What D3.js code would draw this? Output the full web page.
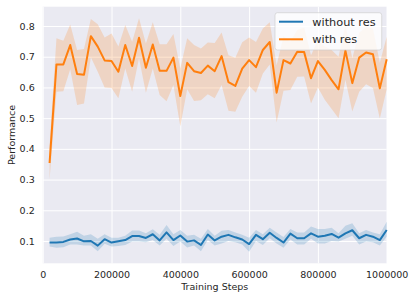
<!DOCTYPE html>
<html>
<head>
<meta charset="utf-8">
<script src="https://cdn.jsdelivr.net/npm/d3@7"></script>
<style>
  body { margin: 0; background: #fff; }
  text { font-family: "DejaVu Sans", sans-serif; fill: #262626; }
</style>
</head>
<body>
<div id="chart"></div>
<script>
// Data.
const steps = [20000, 40000, 60000, 80000, 100000, 120000, 140000, 160000, 180000, 200000,
  220000, 240000, 260000, 280000, 300000, 320000, 340000, 360000, 380000, 400000,
  420000, 440000, 460000, 480000, 500000, 520000, 540000, 560000, 580000, 600000,
  620000, 640000, 660000, 680000, 700000, 720000, 740000, 760000, 780000, 800000,
  820000, 840000, 860000, 880000, 900000, 920000, 940000, 960000, 980000, 1000000];

const withRes = [0.354, 0.675, 0.675, 0.738, 0.644, 0.641, 0.767, 0.733, 0.688, 0.686,
  0.651, 0.738, 0.670, 0.762, 0.664, 0.740, 0.654, 0.654, 0.697, 0.572,
  0.680, 0.653, 0.647, 0.671, 0.653, 0.702, 0.617, 0.605, 0.661, 0.689,
  0.666, 0.722, 0.748, 0.583, 0.689, 0.678, 0.716, 0.715, 0.630, 0.686,
  0.657, 0.624, 0.594, 0.720, 0.614, 0.697, 0.714, 0.708, 0.597, 0.692];
const withResHi = [0.410, 0.760, 0.752, 0.805, 0.722, 0.725, 0.823, 0.806, 0.763, 0.776,
  0.733, 0.803, 0.749, 0.825, 0.743, 0.812, 0.741, 0.741, 0.774, 0.662,
  0.760, 0.738, 0.727, 0.746, 0.745, 0.779, 0.705, 0.697, 0.747, 0.763,
  0.748, 0.792, 0.812, 0.672, 0.767, 0.749, 0.787, 0.794, 0.705, 0.754,
  0.733, 0.722, 0.700, 0.803, 0.695, 0.778, 0.797, 0.792, 0.680, 0.765];
const withResLo = [0.300, 0.586, 0.588, 0.659, 0.543, 0.548, 0.698, 0.651, 0.600, 0.598,
  0.565, 0.662, 0.586, 0.695, 0.583, 0.662, 0.575, 0.555, 0.608, 0.474,
  0.594, 0.556, 0.558, 0.578, 0.565, 0.608, 0.524, 0.521, 0.570, 0.605,
  0.583, 0.645, 0.675, 0.486, 0.589, 0.592, 0.635, 0.636, 0.548, 0.600,
  0.560, 0.530, 0.500, 0.625, 0.522, 0.586, 0.610, 0.598, 0.499, 0.594];

const withoutRes = [0.095, 0.095, 0.097, 0.105, 0.108, 0.099, 0.100, 0.085, 0.106, 0.095,
  0.099, 0.103, 0.116, 0.116, 0.110, 0.122, 0.102, 0.128, 0.103, 0.118,
  0.098, 0.102, 0.087, 0.121, 0.102, 0.114, 0.120, 0.112, 0.105, 0.090,
  0.120, 0.106, 0.127, 0.110, 0.095, 0.124, 0.109, 0.109, 0.125, 0.114,
  0.117, 0.123, 0.111, 0.125, 0.135, 0.109, 0.120, 0.114, 0.103, 0.136];
const withoutResHi = [0.111, 0.114, 0.115, 0.122, 0.130, 0.117, 0.122, 0.107, 0.122, 0.111,
  0.111, 0.117, 0.134, 0.134, 0.125, 0.138, 0.120, 0.152, 0.122, 0.136,
  0.117, 0.120, 0.107, 0.139, 0.117, 0.133, 0.136, 0.128, 0.120, 0.111,
  0.136, 0.122, 0.143, 0.128, 0.113, 0.139, 0.128, 0.128, 0.147, 0.139,
  0.139, 0.143, 0.125, 0.150, 0.158, 0.125, 0.136, 0.128, 0.122, 0.163];
const withoutResLo = [0.082, 0.078, 0.080, 0.089, 0.089, 0.085, 0.085, 0.067, 0.091, 0.082,
  0.084, 0.087, 0.098, 0.098, 0.096, 0.103, 0.085, 0.107, 0.084, 0.098,
  0.079, 0.085, 0.067, 0.103, 0.085, 0.092, 0.100, 0.096, 0.089, 0.065,
  0.100, 0.087, 0.109, 0.092, 0.078, 0.105, 0.089, 0.089, 0.107, 0.092,
  0.092, 0.100, 0.098, 0.107, 0.117, 0.089, 0.098, 0.096, 0.085, 0.114];

const xTicks = [0, 200000, 400000, 600000, 800000, 1000000];
const yTicks = [0.1, 0.2, 0.3, 0.4, 0.5, 0.6, 0.7, 0.8];

const series = [
  { name: "without res", color: "#1f77b4", mean: withoutRes, hi: withoutResHi, lo: withoutResLo },
  { name: "with res", color: "#ff7f0e", mean: withRes, hi: withResHi, lo: withResLo },
];

// Margin convention.
const W = 416, H = 300;
const margin = { top: 6.7, right: 29.3, bottom: 36.7, left: 42.7 };
const width = W - margin.left - margin.right;
const height = H - margin.top - margin.bottom;

const svg = d3.select("#chart").append("svg")
  .attr("width", W).attr("height", H);
const g = svg.append("g")
  .attr("transform", `translate(${margin.left},${margin.top})`);

// Scales.
const x = d3.scaleLinear().domain([0, 1000000]).range([0, width]);
const y = d3.scaleLinear().domain([0.0274, 0.8629]).range([height, 0]);

g.append("rect").attr("width", width).attr("height", height).attr("fill", "#eaeaf2");

// Grid + axes.
const xAxis = g.append("g")
  .attr("transform", `translate(0,${height})`)
  .call(d3.axisBottom(x).tickValues(xTicks).tickFormat(d3.format("d")).tickSize(-height).tickPadding(8));
const yAxis = g.append("g")
  .call(d3.axisLeft(y).tickValues(yTicks).tickFormat(d3.format(".1f")).tickSize(-width).tickPadding(8));

[xAxis, yAxis].forEach((a) => {
  a.select(".domain").remove();
  a.selectAll(".tick line").attr("stroke", "#fff").attr("stroke-width", 1);
  a.selectAll(".tick text").attr("font-size", 9.5).attr("font-family", "DejaVu Sans").attr("fill", "#262626");
});

// Bands and lines.
const area = d3.area()
  .x((d, i) => x(steps[i]))
  .y0((d) => y(d[0]))
  .y1((d) => y(d[1]));
const line = d3.line()
  .x((d, i) => x(steps[i]))
  .y((d) => y(d));

series.forEach((s) => {
  g.append("path")
    .datum(s.lo.map((v, i) => [v, s.hi[i]]))
    .attr("d", area)
    .attr("fill", s.color)
    .attr("fill-opacity", 0.2);
});
series.forEach((s) => {
  g.append("path")
    .datum(s.mean)
    .attr("d", line)
    .attr("fill", "none")
    .attr("stroke", s.color)
    .attr("stroke-width", 2)
    .attr("stroke-linejoin", "round");
});

// Axis labels.
svg.append("text")
  .attr("x", margin.left + width / 2)
  .attr("y", 290)
  .attr("text-anchor", "middle")
  .attr("font-size", 9.5)
  .text("Training Steps");

svg.append("text")
  .attr("transform", `translate(14.5,${margin.top + height / 2}) rotate(-90)`)
  .attr("text-anchor", "middle")
  .attr("font-size", 9.5)
  .text("Performance");

// Legend.
const legend = svg.append("g").attr("transform", "translate(275,12.7)");
legend.append("rect")
  .attr("width", 106.7).attr("height", 37.3).attr("rx", 2.5)
  .attr("fill", "#fff").attr("fill-opacity", 0.8)
  .attr("stroke", "#cccccc").attr("stroke-opacity", 0.8).attr("stroke-width", 0.8);
series.forEach((s, i) => {
  const row = legend.append("g").attr("transform", `translate(0,${9 + i * 17.6})`);
  row.append("line").attr("x1", 4).attr("x2", 28)
    .attr("stroke", s.color).attr("stroke-width", 2);
  row.append("text").attr("x", 37.3).attr("y", 4)
    .attr("font-size", 11.3).text(s.name);
});
</script>
</body>
</html>
